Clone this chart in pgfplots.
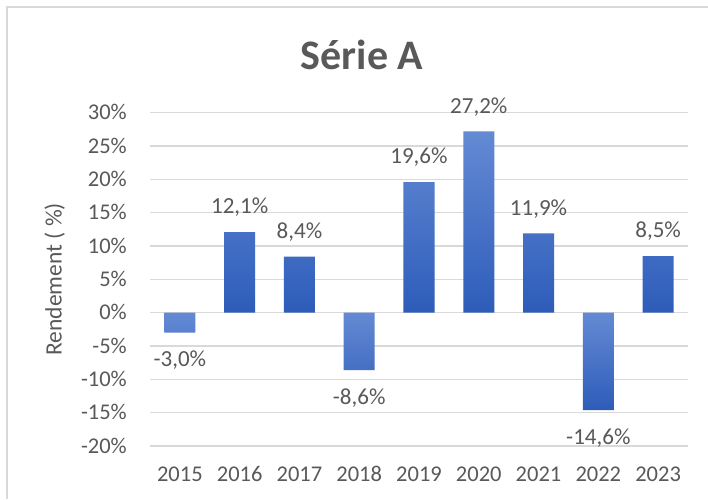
\documentclass[border=0pt]{standalone}
\usepackage{pgfplots}
\pgfplotsset{compat=1.18}
\usepackage{fontspec}
\setmainfont{Carlito}
\definecolor{txt}{HTML}{595959}
\definecolor{gridc}{HTML}{D9D9D9}
\definecolor{bartop}{RGB}{100,138,212}
\definecolor{barbot}{RGB}{45,92,185}
\begin{document}
\begin{tikzpicture}[x=1pt,y=1pt]
\useasboundingbox (0,0) rectangle (708,499);
\fill[white] (0,0) rectangle (708,499);
\draw[gridc, line width=1.5pt] (7,0) -- (7,492) -- (708,492);
\node[font=\fontsize{42}{48}\selectfont\bfseries, text=txt, anchor=base, inner sep=0pt] at (362,429) {Série A};
\begin{axis}[
  at={(150pt,53pt)}, anchor=south west,
  scale only axis, width=538pt, height=333.3pt,
  xmin=-0.5, xmax=8.5, ymin=-20, ymax=30,
  xtick={0,...,8},
  xticklabels={2015,2016,2017,2018,2019,2020,2021,2022,2023},
  ytick={-20,-15,...,30},
  yticklabels={{-20\%},{-15\%},{-10\%},{-5\%},{0\%},{5\%},{10\%},{15\%},{20\%},{25\%},{30\%}},
  axis line style={draw=none},
  major tick style={draw=none},
  ymajorgrids, xmajorgrids=false,
  y grid style={color=gridc, line width=1.4pt},
  tick label style={font=\fontsize{22.5}{26}\selectfont, text=txt, text height=14pt, text depth=0pt},
  x tick label style={anchor=north, inner sep=0pt, yshift=-21.5pt},
  y tick label style={anchor=east, inner sep=0pt, xshift=-23pt},
  ylabel={Rendement ( \%)},
  every axis y label/.style={at={(axis description cs:-0.177,0.5)}, rotate=90, anchor=center, font=\fontsize{23.5}{26}\selectfont, text=txt},
  clip=false,
  bar width=31pt,
]
\addplot[ybar, bar shift=0pt, draw=none, top color=bartop, bottom color=barbot,
  point meta=explicit symbolic,
  nodes near coords,
  every node near coord/.append style={anchor=south, font=\fontsize{23}{26}\selectfont, text=txt, inner xsep=0pt, inner ysep=18pt, text height=14pt, text depth=0pt}]
table[meta=lab] {
x y lab
1 12.1 {12,1\%}
2 8.4 {8,4\%}
4 19.6 {19,6\%}
5 27.2 {27,2\%}
6 11.9 {11,9\%}
8 8.5 {8,5\%}
};
\addplot[ybar, bar shift=0pt, draw=none, top color=bartop, bottom color=barbot,
  point meta=explicit symbolic,
  nodes near coords,
  every node near coord/.append style={anchor=north, font=\fontsize{23}{26}\selectfont, text=txt, inner xsep=0pt, inner ysep=20pt, text height=14pt, text depth=0pt}]
table[meta=lab] {
x y lab
0 -3.0 {-3,0\%}
3 -8.6 {-8,6\%}
7 -14.6 {-14,6\%}
};
\end{axis}
\end{tikzpicture}
\end{document}
